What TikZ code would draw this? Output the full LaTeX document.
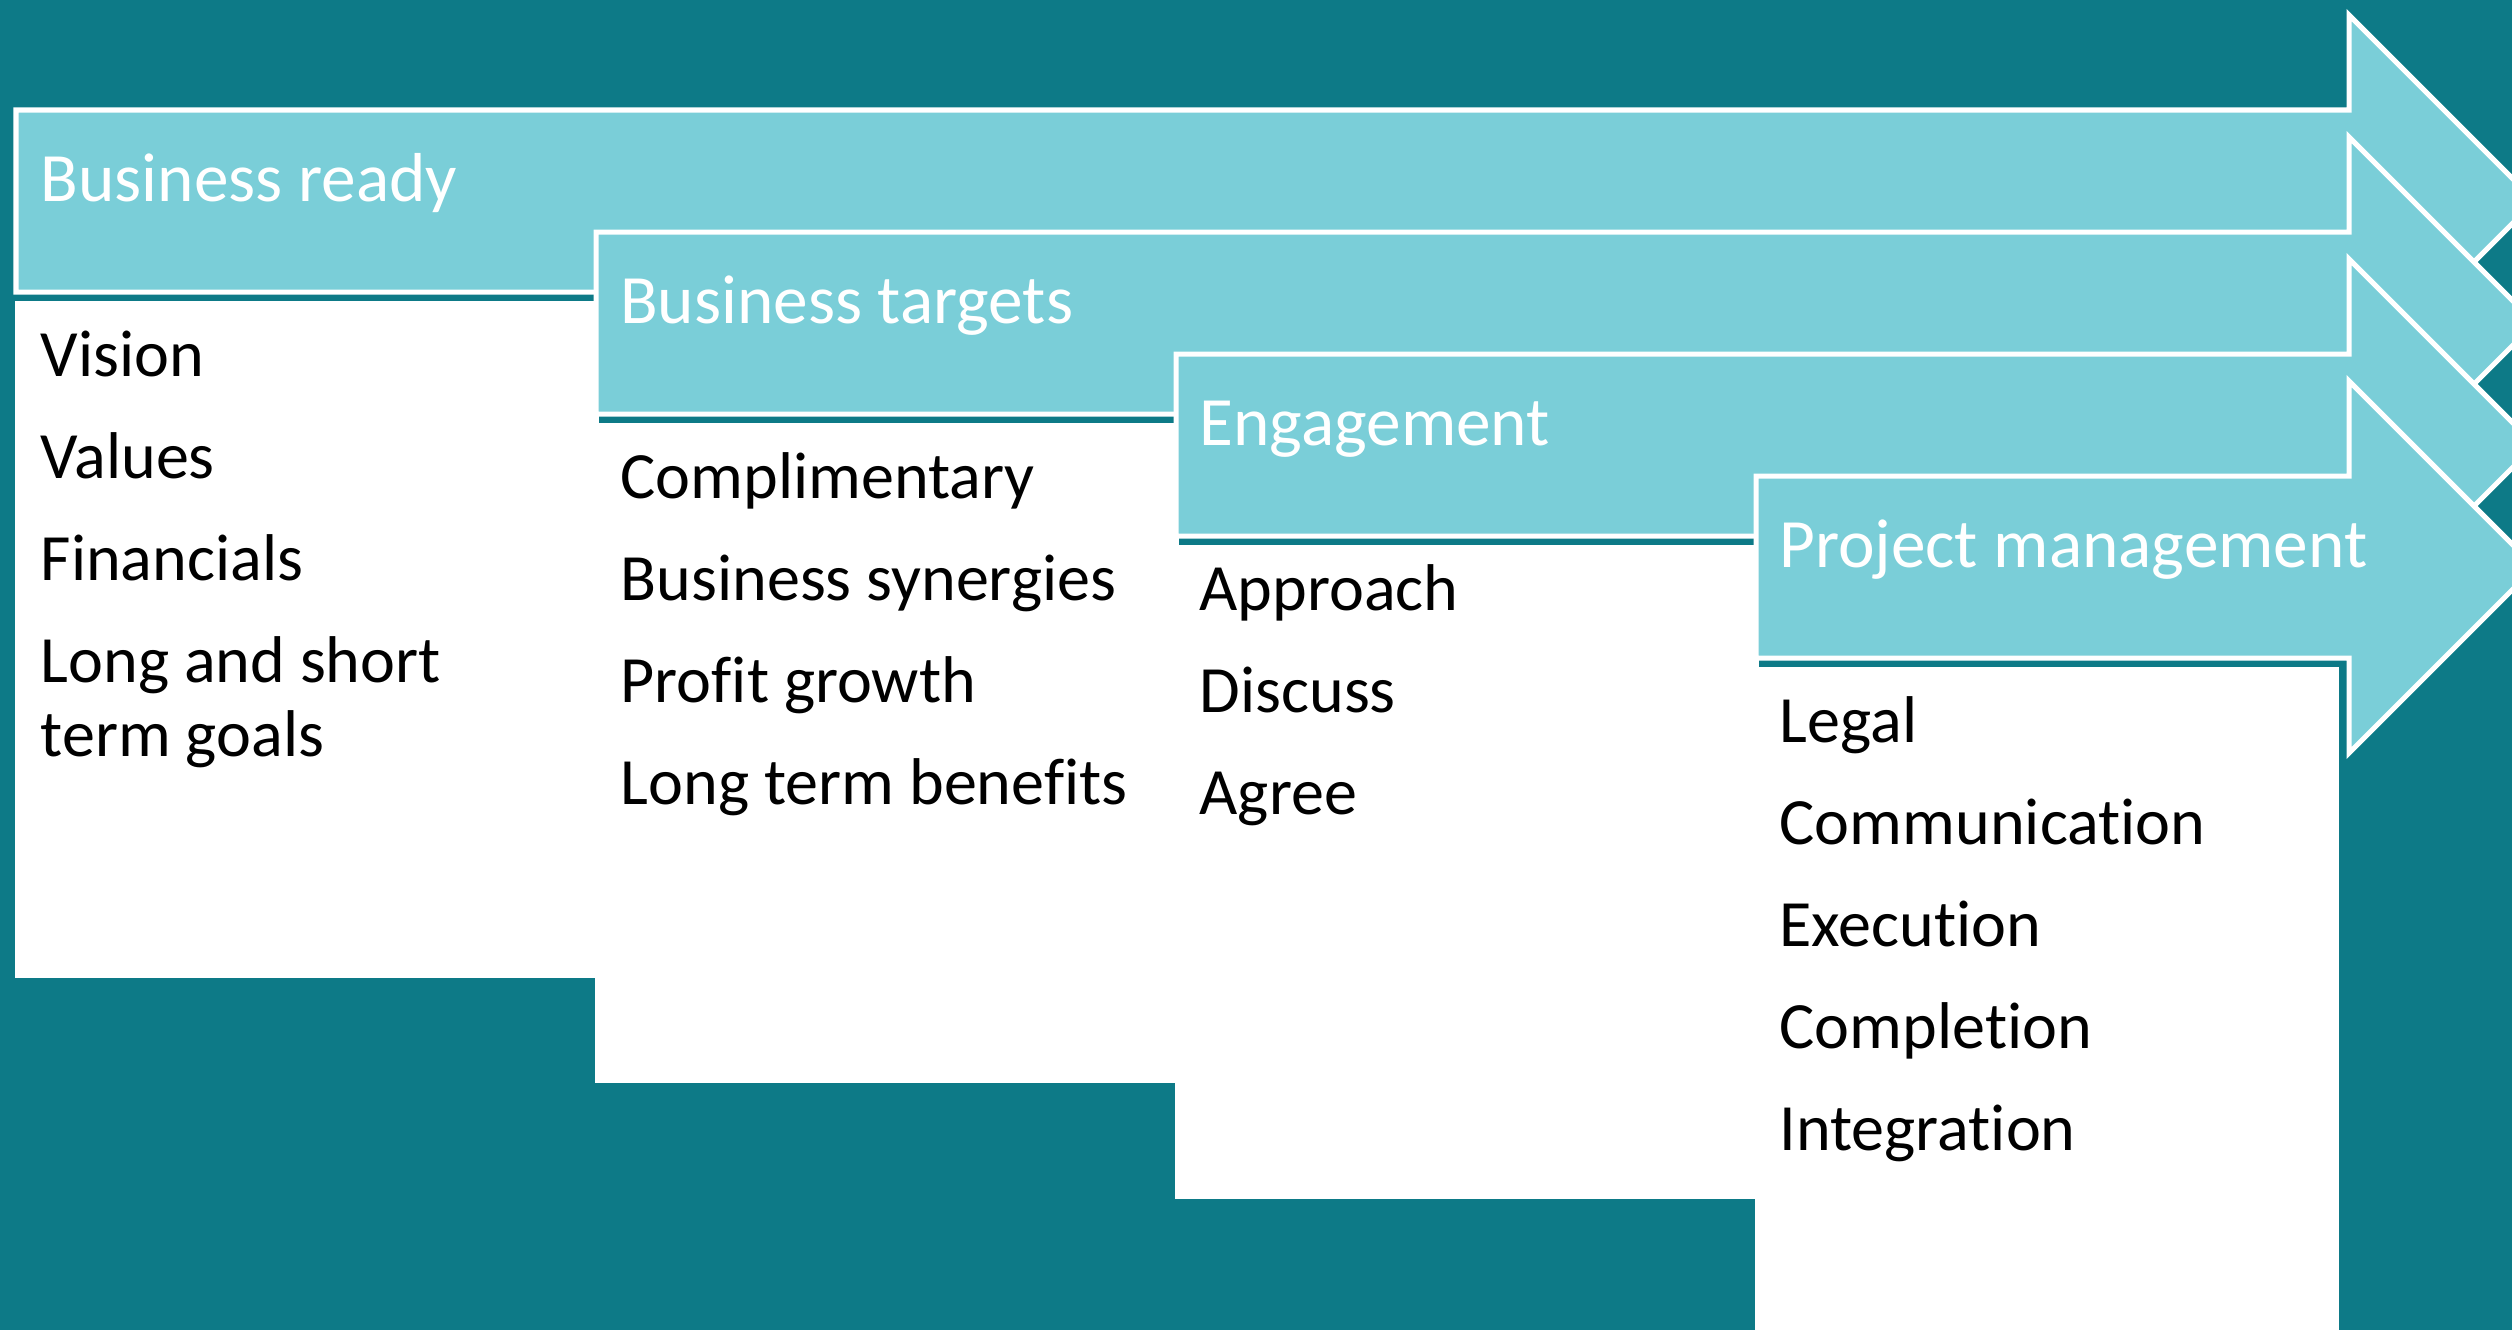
\documentclass[tikz,border=0pt]{standalone}
\usepackage{fontspec}
\setmainfont{Carlito}[Ligatures={NoCommon}]
\definecolor{sea}{RGB}{13,122,135}
\definecolor{sky}{RGB}{122,206,216}

\begin{document}
\begin{tikzpicture}[
    x=0.01cm, y=-0.01cm,
    stagearrow/.style = {fill=sky, draw=white, line width=0.05cm, miter limit=10},
    panel/.style = {fill=white},
    heading/.style = {anchor=base west, inner sep=0pt, text=white, font=\fontsize{19.7}{23}\selectfont},
    item/.style = {anchor=base west, inner sep=0pt, text=black, font=\fontsize{18.8}{22}\selectfont}
    ]
    \useasboundingbox (0,0) rectangle (2512,1330);
    \clip (0,0) rectangle (2512,1330);
    \fill[sea] (0,0) rectangle (2512,1330);

    % arrows with their panels, later ones on top
    \foreach \i/\stagename/\lowedge in {0/Business ready/978, 1/Business targets/1083, 2/Engagement/1199, 3/Project management/1340} {
        \draw[stagearrow] ({16+580*\i},{110+122*\i}) -- (2349,{110+122*\i}) -- (2349,{15+122*\i})
            -- (2535,{201+122*\i}) -- (2349,{387+122*\i}) -- (2349,{292+122*\i})
            -- ({16+580*\i},{292+122*\i}) -- cycle;
        \fill[panel] ({15+580*\i},{301+122*\i}) rectangle ({599+580*\i},\lowedge);
        \node[heading] (head-\i) at ({40+579.5*\i},{201+122*\i}) {\stagename};
    }

    \foreach \txt [count=\j from 0] in {Vision, Values, Financials, Long and short}
        \node[item] (ready-\j) at (40,{376+102*\j}) {\txt};
    \node[item] (ready-4) at (40,756) {term goals};
    \foreach \txt [count=\j from 0] in {Complimentary, Business synergies, Profit growth, Long term benefits}
        \node[item] (targets-\j) at (620,{498+102*\j}) {\txt};
    \foreach \txt [count=\j from 0] in {Approach, Discuss, Agree}
        \node[item] (engage-\j) at (1199,{610+102*\j}) {\txt};
    \foreach \txt [count=\j from 0] in {Legal, Communication, Execution, Completion, Integration}
        \node[item] (project-\j) at (1779,{742+102*\j}) {\txt};
\end{tikzpicture}
\end{document}
